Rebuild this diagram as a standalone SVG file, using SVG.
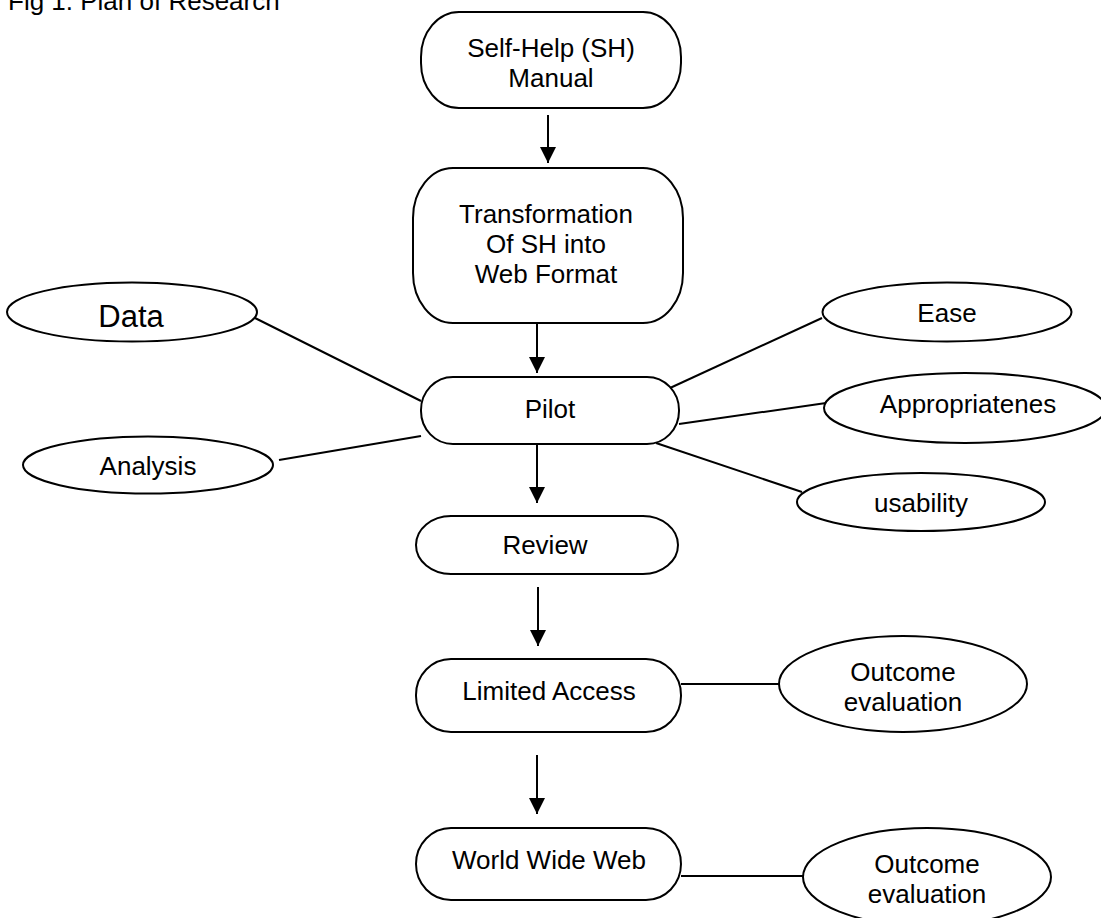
<svg xmlns="http://www.w3.org/2000/svg" width="1101" height="918" viewBox="0 0 1101 918">
<style>
.box{fill:#fff;stroke:#000;stroke-width:2}
.ell{fill:#fff;stroke:#000;stroke-width:2}
.t{font-family:"Liberation Sans",Arial,sans-serif;font-size:26px;fill:#000;text-anchor:middle}
.ln{stroke:#000;stroke-width:2;fill:none}
.ar{stroke:#000;stroke-width:2;fill:none;marker-end:url(#ah)}
</style>
<defs>
<marker id="ah" markerUnits="userSpaceOnUse" markerWidth="16" markerHeight="16" refX="16" refY="8" orient="auto" viewBox="0 0 16 16">
<path d="M0,0 L16,8 L0,16 Z" fill="#000"/>
</marker>
</defs>
<rect width="1101" height="918" fill="#fff"/>
<text x="8" y="10" class="t" style="text-anchor:start">Fig 1. Plan of Research</text>

<g id="connectors">
<line class="ar" x1="548" y1="115" x2="548" y2="163"/>
<line class="ar" x1="537" y1="323" x2="537" y2="373"/>
<line class="ar" x1="537" y1="444" x2="537" y2="503"/>
<line class="ar" x1="538" y1="587" x2="538" y2="646"/>
<line class="ar" x1="537" y1="755" x2="537" y2="814"/>
<line class="ln" x1="255" y1="318" x2="421" y2="401"/>
<line class="ln" x1="279" y1="460" x2="421" y2="436"/>
<line class="ln" x1="670" y1="388" x2="822" y2="318"/>
<line class="ln" x1="679" y1="424" x2="833" y2="402"/>
<line class="ln" x1="656" y1="443" x2="802" y2="492"/>
<line class="ln" x1="681" y1="684" x2="779" y2="684"/>
<line class="ln" x1="681" y1="876" x2="803" y2="876"/>
</g>

<g id="selfhelp">
<rect class="box" x="421" y="12" width="260" height="96" rx="38" ry="45"/>
<text class="t" x="551" y="57">Self-Help (SH)</text>
<text class="t" x="551" y="87">Manual</text>
</g>
<g id="transformation">
<rect class="box" x="413" y="168" width="270" height="155" rx="40" ry="50"/>
<text class="t" x="546" y="223">Transformation</text>
<text class="t" x="546" y="253">Of SH into</text>
<text class="t" x="546" y="283">Web Format</text>
</g>
<g id="pilot">
<rect class="box" x="421" y="377" width="258" height="67" rx="32" ry="33"/>
<text class="t" x="550" y="418">Pilot</text>
</g>
<g id="review">
<rect class="box" x="416" y="516" width="262" height="58" rx="35" ry="29"/>
<text class="t" x="545" y="554">Review</text>
</g>
<g id="limited">
<rect class="box" x="416" y="659" width="265" height="73" rx="35" ry="36"/>
<text class="t" x="549" y="700">Limited Access</text>
</g>
<g id="www">
<rect class="box" x="416" y="828" width="265" height="72" rx="35" ry="36"/>
<text class="t" x="549" y="869">World Wide Web</text>
</g>
<g id="data">
<ellipse class="ell" cx="132" cy="312" rx="125" ry="29.5"/>
<text class="t" x="131" y="327" style="font-size:31px">Data</text>
</g>
<g id="analysis">
<ellipse class="ell" cx="148" cy="465" rx="125" ry="28.5"/>
<text class="t" x="148" y="475">Analysis</text>
</g>
<g id="ease">
<ellipse class="ell" cx="947" cy="312" rx="124.5" ry="29.5"/>
<text class="t" x="947" y="322">Ease</text>
</g>
<g id="appropriateness">
<ellipse class="ell" cx="965" cy="408" rx="141" ry="35"/>
<text class="t" x="968" y="413">Appropriatenes</text>
</g>
<g id="usability">
<ellipse class="ell" cx="921" cy="502" rx="124" ry="29"/>
<text class="t" x="921" y="512">usability</text>
</g>
<g id="outcome1">
<ellipse class="ell" cx="903" cy="684" rx="124" ry="48"/>
<text class="t" x="903" y="681">Outcome</text>
<text class="t" x="903" y="711">evaluation</text>
</g>
<g id="outcome2">
<ellipse class="ell" cx="927" cy="877" rx="124" ry="49"/>
<text class="t" x="927" y="873">Outcome</text>
<text class="t" x="927" y="903">evaluation</text>
</g>
</svg>
